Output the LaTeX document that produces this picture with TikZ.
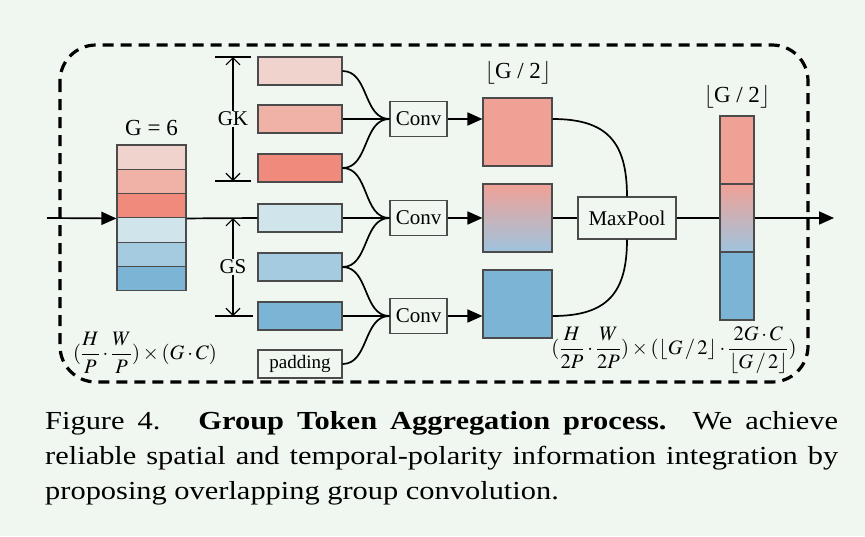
\documentclass[tikz,border=0pt]{standalone}
\usepackage{mathptmx}
\usepackage{fontspec}
\setmainfont{Liberation Serif}
\newfontfamily\capfont[FakeStretch=1.17]{Liberation Serif}
\usetikzlibrary{arrows.meta,positioning}
\definecolor{bgMint}{RGB}{240,246,240}
\definecolor{tokA}{RGB}{240,211,204}
\definecolor{tokB}{RGB}{240,177,166}
\definecolor{tokC}{RGB}{240,138,124}
\definecolor{tokD}{RGB}{208,228,236}
\definecolor{tokE}{RGB}{165,203,224}
\definecolor{tokF}{RGB}{124,180,214}
\definecolor{outRed}{RGB}{240,161,150}
\definecolor{outBlueLt}{RGB}{158,196,222}
\definecolor{edgeGray}{RGB}{75,75,75}

\begin{document}
\begin{tikzpicture}[x=1pt,y=-1pt,font=\fontsize{21}{24}\selectfont,
  cell/.style={draw=edgeGray,line width=1.1pt,inner sep=0pt,minimum width=69pt,minimum height=24.3pt},
  band/.style={draw=edgeGray,line width=1.1pt,inner sep=0pt,minimum width=84pt,minimum height=28pt},
  opbox/.style={draw=edgeGray,line width=1.1pt,fill=bgMint,inner sep=0pt,minimum height=35pt},
  feat/.style={draw=edgeGray,line width=1.1pt,inner sep=0pt,minimum width=69pt,minimum height=68pt},
  outcell/.style={draw=edgeGray,line width=1.1pt,inner sep=0pt,minimum width=34pt,minimum height=68pt},
  flow/.style={line width=1.7pt},
  flowarrow/.style={line width=1.7pt,-{Triangle[length=15pt,width=13pt]}},
  dim/.style={line width=1.1pt,-{Straight Barb[length=7pt,width=14pt]}},
  tick/.style={line width=1.1pt},
  shapelbl/.style={font=\fontsize{20.5}{24}\selectfont,inner sep=0pt}]
 \fill[bgMint] (0,0) rectangle (865,536);
 \draw[line width=3.2pt,dash pattern=on 11pt off 7pt,rounded corners=36pt] (60,45) rectangle (808,382);

 % input tokens, G = 6
 \foreach \c [count=\i] in {tokA,tokB,tokC,tokD,tokE,tokF}
   \node[cell,fill=\c] (g\i) at (151.5,{145+24.3*(\i-0.5)}) {};
 \node[font=\fontsize{23}{26}\selectfont] (glabel) at (151.5,128) {G = 6};
 \coordinate (src) at (47,218);
 \draw[flowarrow] (src) -- (g3.south west);

 % overlapping groups
 \foreach \c/\y [count=\i] in {tokA/71,tokB/119,tokC/168,tokD/218,tokE/267,tokF/316}
   \node[band,fill=\c] (b\i) at (300,\y) {};
 \node[band,fill=bgMint,font=\fontsize{19}{22}\selectfont] (pad) at (300,364) {padding};
 \draw[flow] (g3.south east) -- (b4.west);

 \coordinate (gkT) at (233,57);
 \coordinate (gkB) at (233,181);
 \coordinate (gsT) at (233,218);
 \coordinate (gsB) at (233,316);
 \draw[tick] (gkT) ++(-18,0) -- ++(36,0);
 \draw[tick] (gkB) ++(-18,0) -- ++(36,0);
 \draw[tick] (gsB) ++(-18,0) -- ++(38,0);
 \node[fill=bgMint,inner sep=1pt] (gk) at (233,119) {GK};
 \node[fill=bgMint,inner sep=1pt] (gs) at (233,267) {GS};
 \draw[dim] (gk) -- (gkT);
 \draw[dim] (gk) -- (gkB);
 \draw[dim] (gs) -- (gsT);
 \draw[dim] (gs) -- (gsB);

 % group convolutions
 \node[opbox,minimum width=57pt] (cv1) at (418.5,119) {Conv};
 \node[opbox,minimum width=57pt] (cv2) at (418.5,218) {Conv};
 \node[opbox,minimum width=57pt] (cv3) at (418.5,316) {Conv};
 \draw[flow] (b1.east) to[out=0,in=180] (cv1.west);
 \draw[flow] (b2.east) -- (cv1.west);
 \draw[flow] (b3.east) to[out=0,in=180] (cv1.west);
 \draw[flow] (b3.east) to[out=0,in=180] (cv2.west);
 \draw[flow] (b4.east) -- (cv2.west);
 \draw[flow] (b5.east) to[out=0,in=180] (cv2.west);
 \draw[flow] (b5.east) to[out=0,in=180] (cv3.west);
 \draw[flow] (b6.east) -- (cv3.west);
 \draw[flow] (pad.east) to[out=0,in=180] (cv3.west);

 % conv outputs
 \node[feat,fill=outRed] (f1) at (517.5,132) {};
 \node[feat,top color=outRed,bottom color=outBlueLt] (f2) at (517.5,218) {};
 \node[feat,fill=tokF] (f3) at (517.5,304) {};
 \node[font=\fontsize{23}{26}\selectfont] (half1) at (518,73) {$\lfloor$G / 2$\rfloor$};
 \draw[flowarrow] (cv1.east) -- (cv1.east -| f1.west);
 \draw[flowarrow] (cv2.east) -- (f2.west);
 \draw[flowarrow] (cv3.east) -- (cv3.east -| f3.west);

 % pooling
 \node[opbox,minimum width=98pt,minimum height=42pt] (mp) at (627,218) {MaxPool};
 \draw[flow] (cv1.east -| f1.east) to[out=0,in=90,looseness=1.3] (mp.north);
 \draw[flow] (f2.east) -- (mp.west);
 \draw[flow] (cv3.east -| f3.east) to[out=0,in=-90,looseness=1.3] (mp.south);

 % aggregated tokens
 \node[outcell,fill=outRed] (o1) at (737,150) {};
 \node[outcell,top color=outRed,bottom color=outBlueLt] (o2) at (737,218) {};
 \node[outcell,fill=tokF] (o3) at (737,286) {};
 \node[font=\fontsize{23}{26}\selectfont] (half2) at (737,97) {$\lfloor$G / 2$\rfloor$};
 \coordinate (sink) at (834,218);
 \draw[flow] (mp.east) -- (o2.west);
 \draw[flowarrow] (o2.east) -- (sink);

 \node[shapelbl] (inshape) at (145,353)
   {$\displaystyle(\frac{H}{P}\cdot\frac{W}{P})\times(G\cdot C)$};
 \node[shapelbl] (outshape) at (674,350)
   {$\displaystyle(\frac{H}{2P}\cdot\frac{W}{2P})\times(\lfloor G\,/\,2\rfloor\cdot\frac{2G\cdot C}{\lfloor \textstyle G\,/\,2\rfloor})$};

 \node[anchor=north west,inner sep=0pt,text width=793pt,align=justify,
   font=\capfont\fontsize{26}{35}\selectfont] (cap) at (45,411)
   {Figure 4.\hspace*{38pt}\textbf{Group Token Aggregation process.}\hspace*{26pt}We achieve\linebreak
    reliable spatial and temporal-polarity information integration by\linebreak
    proposing overlapping group convolution.};
\end{tikzpicture}
\end{document}
